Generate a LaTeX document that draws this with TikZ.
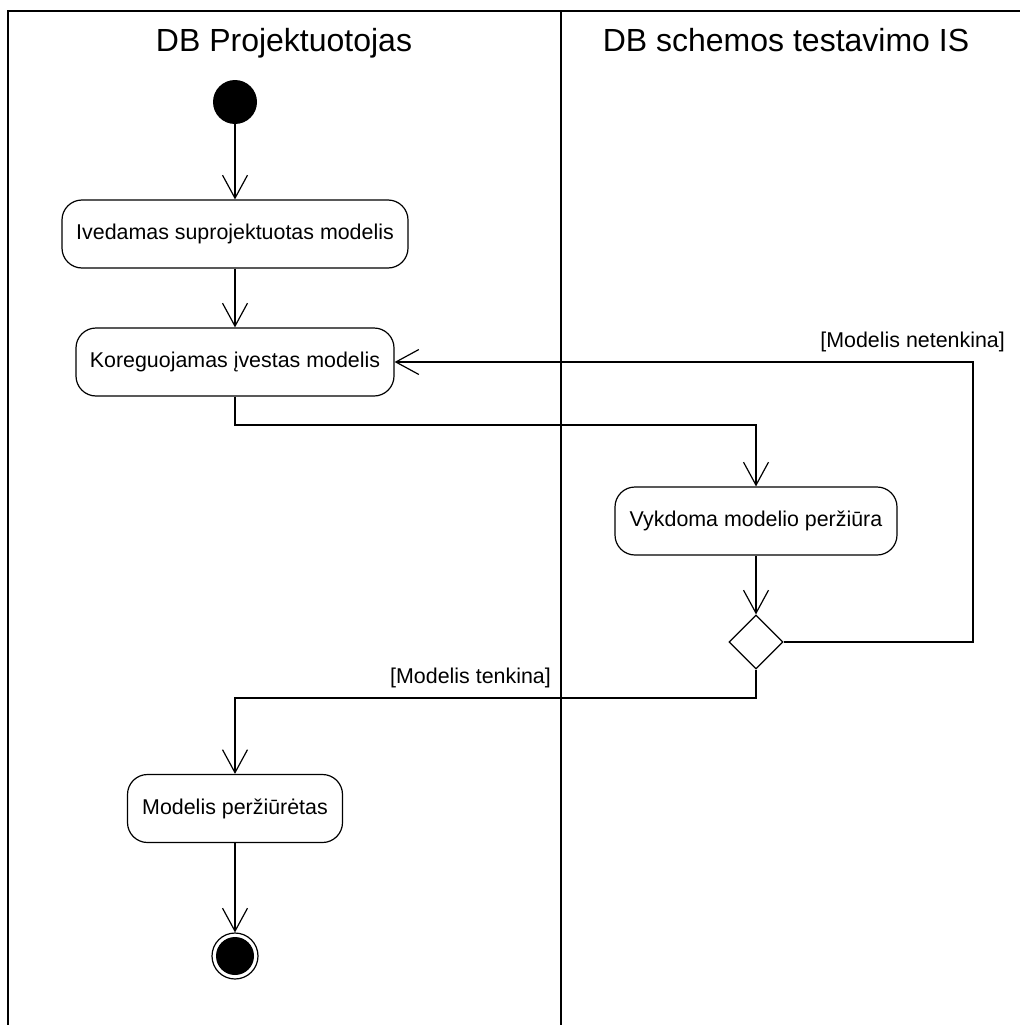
\documentclass[tikz,border=0pt]{standalone}
\usepackage{fontspec}
\setmainfont{Liberation Sans}
\usetikzlibrary{arrows.meta,shapes.geometric}
\begin{document}
\begin{tikzpicture}[x=1pt,y=-1pt,
  lane/.style={line width=1.8pt},
  action/.style={draw,line width=1.2pt,rounded corners=20pt,minimum height=68pt,inner sep=0pt,
    font=\fontsize{21.4}{25}\selectfont},
  title/.style={font=\fontsize{32}{36}\selectfont,anchor=base},
  guard/.style={font=\fontsize{21.4}{25}\selectfont,anchor=east,inner sep=0pt},
  arr/.style={line width=1.2pt,-{Straight Barb[length=23pt,width=25pt,line width=1.2pt]}},
  decision/.style={draw,diamond,line width=1.2pt,minimum width=54pt,minimum height=54pt,inner sep=0pt},
  startnode/.style={circle,fill=black,minimum size=44pt,inner sep=0pt},
  endnode/.style={circle,draw,line width=1.2pt,minimum size=46pt,inner sep=0pt,
    path picture={\fill (path picture bounding box.center) circle (19pt);}}
]
\useasboundingbox (0,0) rectangle (1020,1025);
\fill[white] (0,0) rectangle (1020,1025);
% swimlanes
\coordinate (tl) at (8,11);
\coordinate (tr) at (1020,11);
\coordinate (bl) at (8,1025);
\coordinate (tm) at (561,11);
\coordinate (bm) at (561,1025);
\draw[lane] (bl) -- (tl) -- (tr);
\draw[lane] (tm) -- (bm);
\node[title] (t1) at (284,52) {DB Projektuotojas};
\node[title] (t2) at (786,52) {DB schemos testavimo IS};
% nodes
\node[startnode] (start) at (235,102) {};
\node[action,minimum width=346pt] (a1) at (235,234) {Ivedamas suprojektuotas modelis};
\node[action,minimum width=318pt] (a2) at (235,362) {Koreguojamas įvestas modelis};
\node[action,minimum width=282pt] (a3) at (756,521) {Vykdoma modelio peržiūra};
\node[decision] (dec) at (756,642) {};
\node[action,minimum width=215pt] (a4) at (235,808.5) {Modelis peržiūrėtas};
\node[endnode] (end) at (235,956) {};
% connectors
\coordinate (c1) at (235,425);
\coordinate (c2) at (973,362);
\coordinate (c3) at (756,698);
\draw[arr] (start) -- (a1);
\draw[arr] (a1) -- (a2);
\draw[arr] (a2.south) -- (c1) -| (a3.north);
\draw[arr] (a3) -- (dec);
\draw[arr] (dec.east) -| (c2) -- (a2.east);
\draw[arr] (dec.south) -- (c3) -| (a4.north);
\draw[arr] (a4) -- (end);
% guards
\node[guard] (g1) at (1005,342) {[Modelis netenkina]};
\node[guard] (g2) at (551,678) {[Modelis tenkina]};
\end{tikzpicture}
\end{document}
